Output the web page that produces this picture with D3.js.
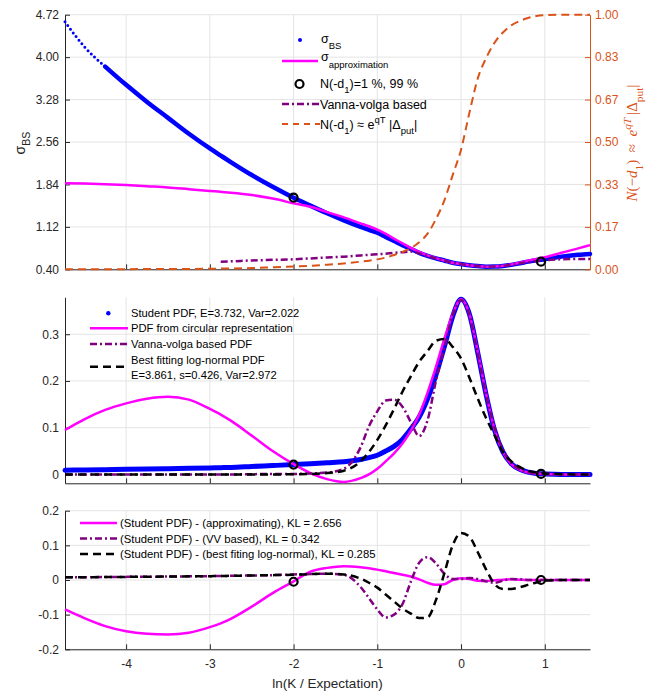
<!DOCTYPE html>
<html>
<head>
<meta charset="utf-8">
<script src="https://cdn.jsdelivr.net/npm/d3@7"></script>
<style>
  body { margin: 0; background: #fff; }
  svg text { font-family: "Liberation Sans", Arial, Helvetica, sans-serif; }
</style>
</head>
<body>
<script>
const xs = [-4.73, -4.5, -4.25, -4, -3.75, -3.5, -3.25, -3, -2.87, -2.75, -2.5, -2.25, -2, -1.8, -1.6, -1.4, -1.2, -1.1, -1.0,
  -0.9, -0.8, -0.7, -0.6, -0.5, -0.4, -0.3, -0.2, -0.1, 0, 0.1, 0.2, 0.3, 0.4, 0.5, 0.6, 0.7, 0.8, 0.9, 1.0, 1.2, 1.4, 1.54];

// top panel, left axis
const sigmaBS = [4.60, 4.18, 3.84, 3.53, 3.24, 2.97, 2.70, 2.45, 2.33, 2.22, 2.00, 1.80, 1.615, 1.48, 1.35, 1.23, 1.12, 1.07, 1.02,
  0.95, 0.88, 0.81, 0.745, 0.68, 0.628, 0.585, 0.55, 0.51, 0.49, 0.47, 0.455, 0.445, 0.447, 0.457, 0.475, 0.50, 0.53, 0.555, 0.57, 0.615, 0.645, 0.66];
const sigmaApprox = [1.86, 1.855, 1.845, 1.83, 1.81, 1.79, 1.76, 1.73, 1.715, 1.70, 1.66, 1.60, 1.52, 1.46, 1.37, 1.28, 1.18, 1.13, 1.075,
  1.0, 0.92, 0.84, 0.765, 0.695, 0.635, 0.59, 0.548, 0.512, 0.49, 0.47, 0.455, 0.445, 0.448, 0.46, 0.48, 0.51, 0.545, 0.575, 0.605, 0.68, 0.755, 0.81];
const sigmaVV = [null, null, null, null, null, null, null, null, 0.53, 0.535, 0.55, 0.56, 0.57, 0.585, 0.60, 0.615, 0.635, 0.645, 0.655,
  0.665, 0.68, 0.69, 0.70, 0.67, 0.625, 0.585, 0.55, 0.51, 0.49, 0.47, 0.455, 0.445, 0.447, 0.457, 0.475, 0.50, 0.52, 0.54, 0.555, 0.57, 0.575, 0.575];
// top panel, right axis
const nD1 = [0, 0, 0, 0.0005, 0.001, 0.001, 0.0015, 0.002, 0.003, 0.003, 0.005, 0.008, 0.011, 0.014, 0.018, 0.023, 0.03, 0.034, 0.039,
  0.046, 0.056, 0.068, 0.083, 0.106, 0.14, 0.197, 0.27, 0.37, 0.47, 0.615, 0.75, 0.83, 0.89, 0.93, 0.958, 0.975, 0.987, 0.995, 0.998, 1, 1, 1];

// middle panel, densities
const studentPdf = [0.009, 0.0095, 0.010, 0.011, 0.0115, 0.012, 0.013, 0.014, 0.0145, 0.015, 0.017, 0.019, 0.021, 0.023, 0.025, 0.027, 0.032, 0.036, 0.041,
  0.05, 0.06, 0.075, 0.097, 0.123, 0.162, 0.213, 0.273, 0.338, 0.375, 0.343, 0.26, 0.17, 0.095, 0.048, 0.023, 0.011, 0.005, 0.002, 0.001, 0, 0, 0];
const approxPdf = [0.095, 0.118, 0.138, 0.152, 0.162, 0.166, 0.16, 0.14, 0.128, 0.115, 0.083, 0.05, 0.022, 0.003, -0.01, -0.016, -0.008, 0.0, 0.012,
  0.028, 0.045, 0.066, 0.093, 0.128, 0.175, 0.23, 0.29, 0.343, 0.375, 0.343, 0.262, 0.172, 0.097, 0.048, 0.022, 0.01, 0.004, 0.002, 0.001, 0, 0, 0];
const vvPdf = [0, 0, 0, 0, 0, 0, 0, 0, 0, 0, 0.0005, 0.001, 0.001, 0.002, 0.004, 0.012, 0.058, 0.103, 0.135,
  0.158, 0.16, 0.145, 0.112, 0.082, 0.116, 0.2, 0.27, 0.34, 0.373, 0.342, 0.258, 0.17, 0.1, 0.052, 0.024, 0.011, 0.005, 0.002, 0.001, 0, 0, 0];
const lognPdf = [0, 0, 0, 0, 0, 0, 0, 0, 0, 0, 0, 0, 0.0003, 0.001, 0.003, 0.008, 0.028, 0.048, 0.074,
  0.105, 0.14, 0.177, 0.21, 0.241, 0.264, 0.286, 0.29, 0.273, 0.248, 0.207, 0.162, 0.12, 0.084, 0.048, 0.028, 0.016, 0.008, 0.004, 0.002, 0.0005, 0, 0];

// bottom panel, differences
const diffApprox = [-0.085, -0.11, -0.133, -0.148, -0.155, -0.157, -0.152, -0.136, -0.125, -0.112, -0.077, -0.038, -0.004, 0.024, 0.035, 0.04, 0.037, 0.034, 0.03,
  0.025, 0.02, 0.015, 0.01, 0.002, -0.008, -0.014, -0.012, 0.0, 0.005, 0.003, -0.002, -0.003, -0.001, 0.001, 0.002, 0.001, 0, 0, 0, 0, 0, 0];
const diffVV = [0.008, 0.008, 0.0085, 0.009, 0.0095, 0.010, 0.0105, 0.011, 0.0115, 0.012, 0.013, 0.014, 0.016, 0.017, 0.018, 0.015, -0.02, -0.052, -0.085,
  -0.108, -0.1, -0.07, -0.005, 0.05, 0.066, 0.048, 0.018, 0.003, 0.003, 0.006, 0.003, -0.004, -0.008, -0.002, 0.003, 0.002, 0, 0, 0, 0, 0, 0];
const diffLogn = [0.008, 0.008, 0.0085, 0.009, 0.0095, 0.010, 0.0105, 0.011, 0.0115, 0.012, 0.013, 0.014, 0.015, 0.017, 0.018, 0.016, 0.004, -0.008, -0.022,
  -0.042, -0.062, -0.082, -0.097, -0.11, -0.108, -0.058, 0.019, 0.1, 0.136, 0.125, 0.08, 0.03, -0.012, -0.026, -0.026, -0.021, -0.014, -0.007, -0.002, 0, 0, 0];

// N(-d1) = 1 %, 99 % markers
const circleX = [-2, 0.955];
const circleSigma = [1.615, 0.53];
const circlePdf = [0.021, 0.001];
const circleDiff = [-0.005, 0.0];

// ticks
const xTicks = [-4, -3, -2, -1, 0, 1];
const xTickLabels = ["-4", "-3", "-2", "-1", "0", "1"];
const sigmaTicks = [0.40, 1.12, 1.84, 2.56, 3.28, 4.00, 4.72];
const nTicks = [0, 1/6, 2/6, 3/6, 4/6, 5/6, 1];
const pdfTicks = [0, 0.1, 0.2, 0.3];
const pdfTickLabels = ["0", "0.1", "0.2", "0.3"];
const diffTicks = [-0.2, -0.1, 0, 0.1, 0.2];
const diffTickLabels = ["-0.2", "-0.1", "0", "0.1", "0.2"];

const BLUE = "#0000ff", MAGENTA = "#ff00ff", PURPLE = "#800080", ORANGE = "#D95319", AX = "#262626", GRID = "#e4e4e4";

let svg = d3.select("body").append("svg").attr("width", 648).attr("height", 691);

let x = d3.scaleLinear().domain([-4.73, 1.54]).range([65, 590]);
let yTop = d3.scaleLinear().domain([0.40, 4.72]).range([269.3, 14.7]);
let yRight = d3.scaleLinear().domain([0, 1]).range([269.3, 14.7]);
let yMid = d3.scaleLinear().domain([-0.019, 0.379]).range([483.3, 297.3]);
let yBot = d3.scaleLinear().domain([-0.2, 0.2]).range([649.3, 510.7]);

function grid(y, ticks) {
  let g = svg.append("g").attr("stroke", GRID).attr("stroke-width", 1);
  xTicks.forEach(v => g.append("line").attr("x1", x(v)).attr("x2", x(v)).attr("y1", y.range()[0]).attr("y2", y.range()[1]));
  ticks.forEach(v => g.append("line").attr("x1", x.range()[0]).attr("x2", x.range()[1]).attr("y1", y(v)).attr("y2", y(v)));
}

function styleAxis(g, color) {
  g.attr("font-size", 12).attr("font-family", null);
  g.select(".domain").attr("stroke", color);
  g.selectAll(".tick line").attr("stroke", color);
  g.selectAll(".tick text").attr("fill", color);
}

function axes(y, yAxis, labels) {
  let gx = svg.append("g").attr("transform", `translate(0,${y.range()[0]})`)
    .call(d3.axisBottom(x).tickValues(xTicks).tickSize(-5).tickSizeOuter(0).tickPadding(10)
      .tickFormat((d, i) => labels ? xTickLabels[i] : ""));
  styleAxis(gx, AX);
  let gy = svg.append("g").attr("transform", `translate(${x.range()[0]},0)`).call(yAxis);
  styleAxis(gy, AX);
}

const lineGen = y => d3.line().defined(d => d[1] != null).x(d => x(d[0])).y(d => y(d[1])).curve(d3.curveMonotoneX);

function curve(y, vals, color, w, dash, cap) {
  svg.append("path").datum(xs.map((v, i) => [v, vals[i]]))
    .attr("fill", "none").attr("stroke", color).attr("stroke-width", w)
    .attr("stroke-dasharray", dash || null).attr("stroke-linecap", cap || "butt")
    .attr("stroke-linejoin", "round")
    .attr("d", lineGen(y));
}

function circles(y, vals) {
  svg.append("g").selectAll("circle").data(circleX).join("circle")
    .attr("cx", d => x(d)).attr("cy", (d, i) => y(vals[i])).attr("r", 4)
    .attr("fill", "none").attr("stroke", "#000").attr("stroke-width", 2.2);
}

// rich text with sub/superscripts
function rich(t, parts, size) {
  let off = 0;
  parts.forEach(([s, o = {}]) => {
    let target = o.dy != null ? o.dy : o.sub ? size * 0.4 : o.sup ? -size * 0.42 : 0;
    let ts = t.append("tspan").text(s).attr("dy", target - off);
    if (o.sub || o.sup) ts.attr("font-size", size * 0.76);
    if (o.it) ts.attr("font-style", "italic");
    off = target;
  });
  return t;
}

// ---------- top panel ----------
grid(yTop, sigmaTicks);
axes(yTop, d3.axisLeft(yTop).tickValues(sigmaTicks).tickSize(-5).tickSizeOuter(0).tickPadding(6).tickFormat(d3.format(".2f")), false);
let gr = svg.append("g").attr("transform", "translate(590,0)")
  .call(d3.axisRight(yRight).tickValues(nTicks).tickSize(-5).tickSizeOuter(0).tickPadding(5).tickFormat(d3.format(".2f")));
styleAxis(gr, ORANGE);

curve(yTop, sigmaBS.map((v, i) => xs[i] <= -4.25 ? v : null), BLUE, 3, "0 4.6", "round");
curve(yTop, sigmaBS.map((v, i) => xs[i] >= -4.25 ? v : null), BLUE, 4.5, null, "round");
curve(yTop, sigmaApprox, MAGENTA, 2.5);
curve(yTop, sigmaVV, PURPLE, 2.5, "7 3 2 3");
curve(yRight, nD1, ORANGE, 2, "8 5");
circles(yTop, circleSigma);

// left label sigma_BS
rich(svg.append("text").attr("transform", "translate(25,143) rotate(-90)").attr("text-anchor", "middle")
  .attr("font-size", 14).attr("fill", AX), [["σ"], ["BS", { sub: true, dy: 5 }]], 14);
// right label
rich(svg.append("text").attr("transform", "translate(637,143) rotate(-90)").attr("text-anchor", "middle")
  .attr("font-size", 15).attr("fill", ORANGE).style("font-family", "'Liberation Serif', 'DejaVu Serif', serif"),
  [["N", { it: true }], ["(−"], ["d", { it: true }], ["1", { sub: true }], [")\u2002≈\u2002"], ["e", { it: true }],
   ["qT", { it: true, sup: true }], ["\u2009|Δ"], ["put", { sub: true }], ["|"]], 15);

// top legend
let lg1 = svg.append("g").attr("font-size", 12.5).attr("fill", "#000");
lg1.append("circle").attr("cx", 300).attr("cy", 40).attr("r", 2).attr("fill", BLUE);
rich(lg1.append("text").attr("x", 321).attr("y", 43), [["σ"], ["BS", { sub: true, dy: 6 }]], 12.5);
lg1.append("line").attr("x1", 282).attr("x2", 318).attr("y1", 61).attr("y2", 61).attr("stroke", MAGENTA).attr("stroke-width", 2.5);
rich(lg1.append("text").attr("x", 321).attr("y", 61), [["σ"], ["approximation", { sub: true, dy: 7 }]], 12.5);
lg1.append("circle").attr("cx", 299.5).attr("cy", 84).attr("r", 4).attr("fill", "none").attr("stroke", "#000").attr("stroke-width", 2.2);
rich(lg1.append("text").attr("x", 320).attr("y", 88), [["N(-d"], ["1", { sub: true }], [")=1 %, 99 %"]], 12.5);
lg1.append("line").attr("x1", 282).attr("x2", 320).attr("y1", 104).attr("y2", 104).attr("stroke", PURPLE).attr("stroke-width", 2.5).attr("stroke-dasharray", "7 3 2 3");
lg1.append("text").attr("x", 320).attr("y", 108.5).text("Vanna-volga based");
lg1.append("line").attr("x1", 282).attr("x2", 320).attr("y1", 124).attr("y2", 124).attr("stroke", ORANGE).attr("stroke-width", 2).attr("stroke-dasharray", "6 5");
rich(lg1.append("text").attr("x", 320).attr("y", 128.5),
  [["N(-d"], ["1", { sub: true }], [") ≈ e"], ["qT", { sup: true }], [" |Δ"], ["put", { sub: true }], ["|"]], 12.5);

// ---------- middle panel ----------
grid(yMid, pdfTicks);
axes(yMid, d3.axisLeft(yMid).tickValues(pdfTicks).tickSize(-5).tickSizeOuter(0).tickPadding(6).tickFormat((d, i) => pdfTickLabels[i]), false);
curve(yMid, studentPdf, BLUE, 5, null, "round");
curve(yMid, approxPdf, MAGENTA, 2.5);
curve(yMid, vvPdf, PURPLE, 2.5, "7 3 2 3");
curve(yMid, lognPdf, "#000", 2.5, "8 5");
circles(yMid, circlePdf);

let lg2 = svg.append("g").attr("font-size", 11.2).attr("fill", "#000");
lg2.append("circle").attr("cx", 108.3).attr("cy", 313.3).attr("r", 2.2).attr("fill", BLUE);
lg2.append("text").attr("x", 131).attr("y", 317.3).text("Student PDF, E=3.732, Var=2.022");
lg2.append("line").attr("x1", 90).attr("x2", 128).attr("y1", 328.3).attr("y2", 328.3).attr("stroke", MAGENTA).attr("stroke-width", 2.5);
lg2.append("text").attr("x", 131).attr("y", 332.3).text("PDF from circular representation");
lg2.append("line").attr("x1", 90).attr("x2", 128).attr("y1", 344).attr("y2", 344).attr("stroke", PURPLE).attr("stroke-width", 2.5).attr("stroke-dasharray", "7 3 2 3");
lg2.append("text").attr("x", 131).attr("y", 348).text("Vanna-volga based PDF");
lg2.append("line").attr("x1", 90).attr("x2", 128).attr("y1", 366.7).attr("y2", 366.7).attr("stroke", "#000").attr("stroke-width", 2.5).attr("stroke-dasharray", "8 5");
lg2.append("text").attr("x", 131).attr("y", 363.7).text("Best fitting log-normal PDF");
lg2.append("text").attr("x", 131).attr("y", 379).text("E=3.861, s=0.426, Var=2.972");

// ---------- bottom panel ----------
grid(yBot, diffTicks);
axes(yBot, d3.axisLeft(yBot).tickValues(diffTicks).tickSize(-5).tickSizeOuter(0).tickPadding(6).tickFormat((d, i) => diffTickLabels[i]), true);
curve(yBot, diffApprox, MAGENTA, 2.5);
curve(yBot, diffVV, PURPLE, 2.5, "7 3 2 3");
curve(yBot, diffLogn, "#000", 2.5, "8 5");
circles(yBot, circleDiff);

let lg3 = svg.append("g").attr("font-size", 11.3).attr("fill", "#000");
lg3.append("line").attr("x1", 80).attr("x2", 117).attr("y1", 523).attr("y2", 523).attr("stroke", MAGENTA).attr("stroke-width", 2.5);
lg3.append("text").attr("x", 120).attr("y", 527).text("(Student PDF) - (approximating), KL = 2.656");
lg3.append("line").attr("x1", 80).attr("x2", 117).attr("y1", 538.5).attr("y2", 538.5).attr("stroke", PURPLE).attr("stroke-width", 2.5).attr("stroke-dasharray", "7 3 2 3");
lg3.append("text").attr("x", 120).attr("y", 542.5).text("(Student PDF) - (VV based), KL = 0.342");
lg3.append("line").attr("x1", 80).attr("x2", 117).attr("y1", 554).attr("y2", 554).attr("stroke", "#000").attr("stroke-width", 2.5).attr("stroke-dasharray", "8 5");
lg3.append("text").attr("x", 120).attr("y", 558).text("(Student PDF) - (best fiting log-normal), KL = 0.285");

svg.append("text").attr("x", (x.range()[0] + x.range()[1]) / 2).attr("y", 688).attr("text-anchor", "middle")
  .attr("font-size", 13.5).attr("fill", AX).text("ln(K / Expectation)");
</script>
</body>
</html>
